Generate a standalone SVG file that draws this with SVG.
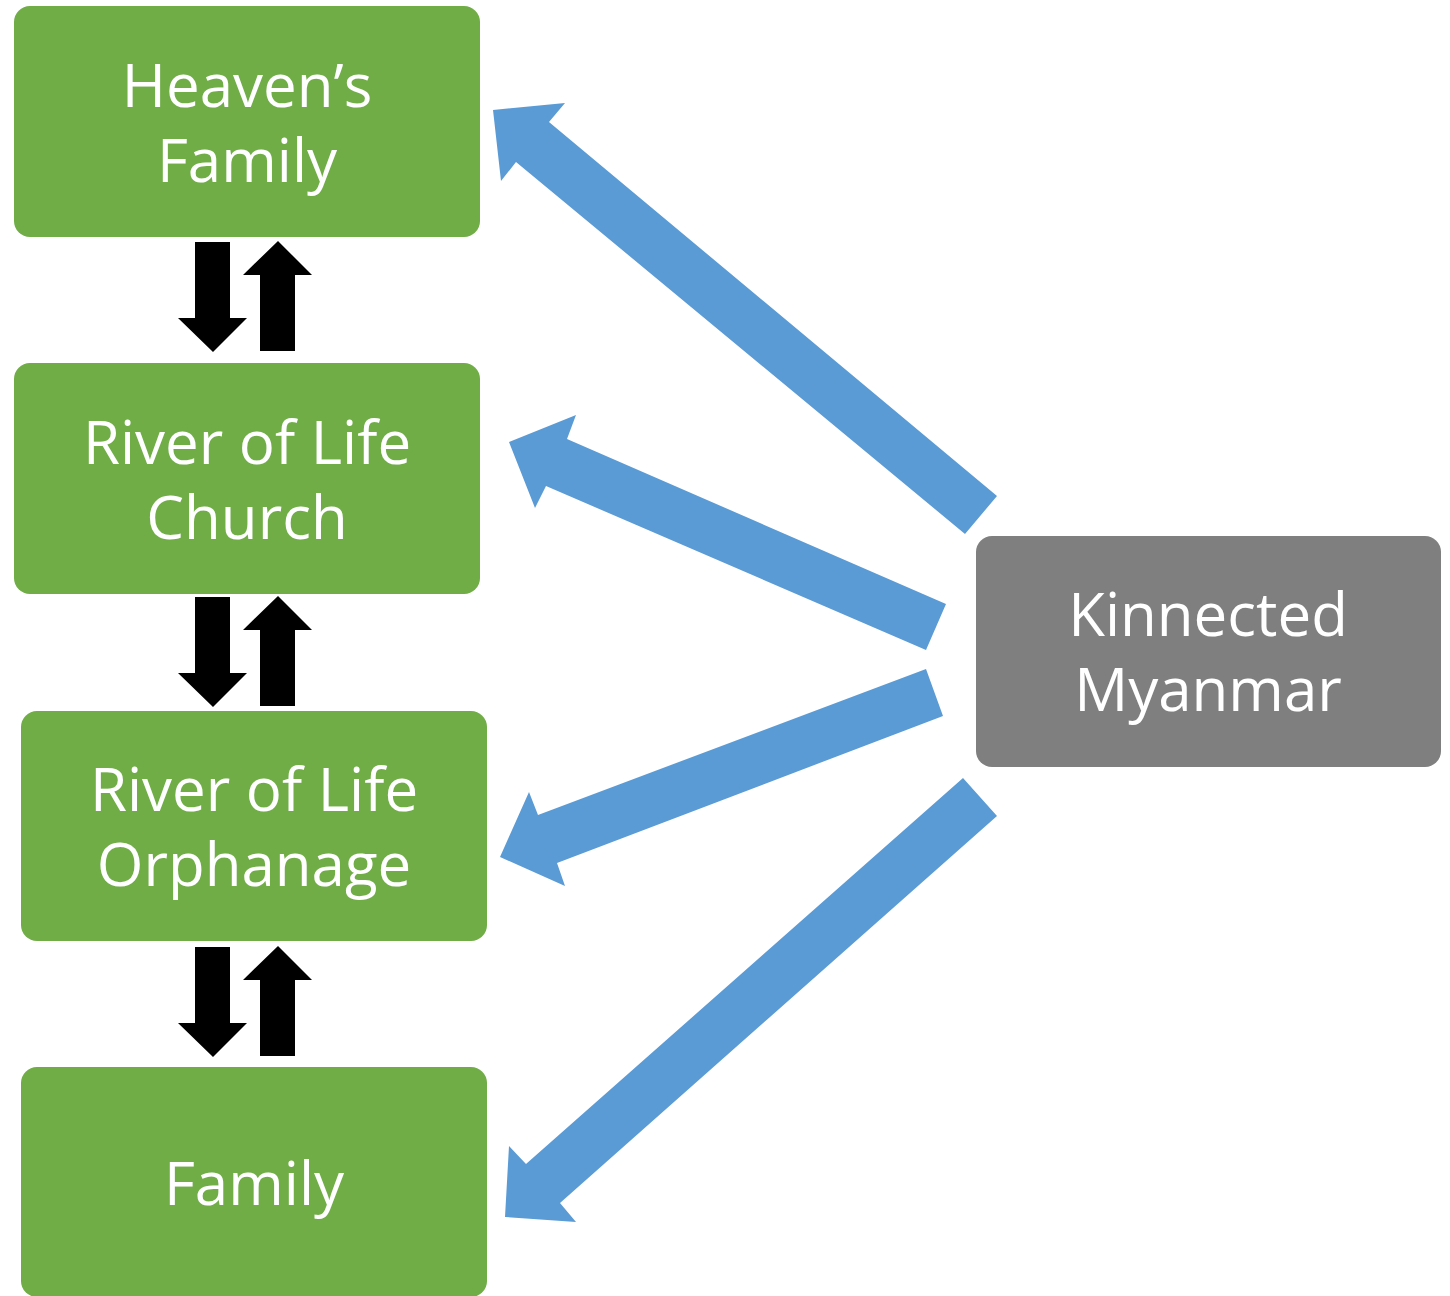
<svg xmlns="http://www.w3.org/2000/svg" width="1450" height="1296" viewBox="0 0 1450 1296">
<style>
.g{fill:#70ad47}
.k{fill:#7f7f7f}
.t{fill:#fff;font-family:"Open Sans",sans-serif;font-size:60px;text-anchor:middle}
.b{fill:#5b9bd5}
.a{fill:#000}
</style>
<defs>
<path id="pair" d="M195,242H230V318H247L213,352L178,318H195Z M260,351V275H243L278,241L312,275H295V351Z"/>
</defs>
<rect width="1450" height="1296" fill="#fff"/>
<g id="heavens-family"><rect class="g" x="14" y="6" width="466" height="231" rx="16"/><text class="t" x="247" y="107">Heaven’s</text><text class="t" x="247" y="182">Family</text></g>
<g id="river-church"><rect class="g" x="14" y="363" width="466" height="231" rx="16"/><text class="t" x="247" y="464">River of Life</text><text class="t" x="247" y="539">Church</text></g>
<g id="river-orphanage"><rect class="g" x="21" y="711" width="466" height="230" rx="16"/><text class="t" x="254" y="811">River of Life</text><text class="t" x="254" y="886">Orphanage</text></g>
<g id="family"><rect class="g" x="21" y="1067" width="466" height="230" rx="16"/><text class="t" x="254" y="1205">Family</text></g>
<g id="kinnected"><rect class="k" x="976" y="536" width="465" height="231" rx="16"/><text class="t" x="1208" y="636">Kinnected</text><text class="t" x="1208" y="711">Myanmar</text></g>
<g id="connectors">
<use href="#pair" class="a"/>
<use href="#pair" class="a" transform="translate(0,355)"/>
<use href="#pair" class="a" transform="translate(0,705)"/>
<polygon class="b" points="493,110 565,103 549,122 997,496 965,534 516,162 501,181"/>
<polygon class="b" points="509,442 576,415 567,439 946,604 926,650 546,486 535,508"/>
<polygon class="b" points="500,857 529,792 538,815 926,669 943,716 557,863 565,886"/>
<polygon class="b" points="505,1217 509,1146 526,1164 963,778 997,816 560,1203 576,1222"/>
</g>
</svg>
